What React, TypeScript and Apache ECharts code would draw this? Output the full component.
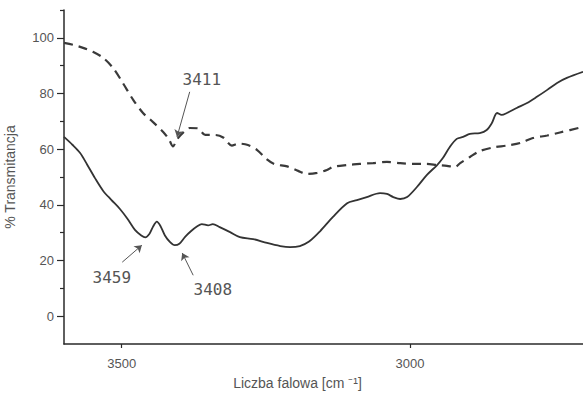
import React, { useEffect, useRef } from "react";
import * as echarts from "echarts";

// Wavenumber [cm^-1] and % transmittance for the solid spectrum
const solidWavenumbers = [
  3600, 3585, 3572, 3560, 3546, 3532, 3518, 3503, 3490, 3477, 3466, 3459, 3452, 3446, 3439,
  3433, 3425, 3416, 3408, 3400, 3390, 3380, 3369, 3361, 3350, 3342, 3330, 3312, 3295, 3272,
  3248, 3225, 3208, 3191, 3175, 3156, 3134, 3109, 3092, 3075, 3052, 3040, 3029, 3017, 3005,
  2988, 2971, 2953, 2943, 2931, 2919, 2908, 2896, 2879, 2867, 2858, 2849, 2841, 2832, 2815,
  2797, 2780, 2762, 2745, 2728, 2700,
];
const solidTransmittance = [
  64.4, 61.5, 58.6, 54.5, 49.5, 45.0, 41.8, 38.5, 35.0, 31.0, 29.0, 28.3, 29.5, 32.0, 34.0,
  32.5, 29.0, 26.6, 25.5, 26.0, 28.5, 30.5, 32.3, 33.1, 32.6, 33.1, 32.0, 30.2, 28.4, 27.7,
  26.3, 25.2, 24.8, 25.2, 26.8, 30.5, 35.6, 40.6, 41.7, 42.8, 44.2, 43.9, 42.8, 42.1, 42.8,
  46.4, 50.7, 54.3, 56.8, 60.8, 63.7, 64.4, 65.5, 65.8, 66.9, 69.4, 73.0, 72.3, 73.0, 74.8,
  76.6, 78.8, 81.3, 83.8, 85.6, 87.8,
];

// Wavenumber [cm^-1] and % transmittance for the dashed spectrum
const dashedWavenumbers = [
  3600, 3584, 3567, 3550, 3532, 3515, 3498, 3480, 3463, 3446, 3428, 3418, 3411, 3404, 3392,
  3382, 3368, 3355, 3338, 3324, 3309, 3298, 3281, 3265, 3248, 3235, 3213, 3194, 3179, 3161,
  3144, 3134, 3109, 3087, 3064, 3040, 3017, 2995, 2971, 2953, 2936, 2922, 2913, 2896, 2879,
  2856, 2832, 2809, 2787, 2762, 2740, 2700,
];
const dashedTransmittance = [
  98.2, 97.5, 96.4, 95.0, 92.8, 89.2, 83.8, 77.7, 73.0, 69.8, 66.2, 63.5, 61.0, 63.5, 66.2,
  67.6, 67.5, 65.1, 65.1, 64.2, 61.3, 62.0, 61.5, 59.7, 56.3, 54.6, 53.8, 52.2, 51.1, 51.5,
  52.5, 53.6, 54.3, 54.7, 55.0, 55.4, 55.0, 54.7, 54.7, 54.3, 54.0, 53.6, 55.0, 57.2, 59.3,
  60.6, 61.3, 62.2, 64.0, 64.9, 66.0, 68.0,
];

// Axis ticks
const xTickValues = [3500, 3000];
const yMajorTicks = [0, 20, 40, 60, 80, 100];
const yMinorTicks = [10, 30, 50, 70, 90, 110];

// Band annotations: label, arrow tail, arrow tip, label centre (data coordinates)
const bandLabels = ["3411", "3459", "3408"];
const arrowTails = [
  [3382, 80.6],
  [3499, 19.4],
  [3376, 14.7],
];
const arrowTips = [
  [3404, 64.4],
  [3465, 25.5],
  [3395, 22.7],
];
const labelCentres = [
  [3361, 84.9],
  [3517, 14.0],
  [3342, 9.7],
];

const zip = (xs: number[], ys: number[]) => xs.map((x, i) => [x, ys[i]]);

export default function App() {
  const ref = useRef<HTMLDivElement>(null);

  useEffect(() => {
    if (!ref.current) return;
    const chart = echarts.init(ref.current, undefined, { renderer: "svg" });
    const axisColor = "#2a2a2a";
    const textColor = "#555";
    const sans = "Liberation Sans, Arial, sans-serif";

    chart.setOption({
      animation: false,
      backgroundColor: "#ffffff",
      grid: { left: 64, top: 10, right: 0, bottom: 49, containLabel: false, outerBoundsMode: "none" },
      xAxis: {
        type: "value",
        inverse: true,
        min: 2700,
        max: 3600,
        name: "Liczba falowa [cm ⁻¹]",
        nameLocation: "middle",
        nameGap: 32,
        nameTextStyle: { color: textColor, fontSize: 14, fontFamily: sans, padding: [0, 52, 0, 0] },
        axisLine: { onZero: false, lineStyle: { color: axisColor, width: 1.5 } },
        axisTick: { show: true, length: 4, customValues: xTickValues, lineStyle: { color: axisColor, width: 1.2 } },
        axisLabel: {
          customValues: xTickValues,
          formatter: (v: number) => String(v),
          color: textColor,
          fontSize: 13,
          fontFamily: sans,
          margin: 13,
        },
        splitLine: { show: false },
      },
      yAxis: [
        {
          type: "value",
          min: -10,
          max: 110,
          name: "% Transmitancja",
          nameLocation: "middle",
          nameRotate: 90,
          nameGap: 47,
          nameTextStyle: { color: textColor, fontSize: 14, fontFamily: sans },
          axisLine: { show: true, onZero: false, lineStyle: { color: axisColor, width: 1.5 } },
          axisTick: { show: true, length: 7, customValues: yMajorTicks, lineStyle: { color: axisColor, width: 1.2 } },
          axisLabel: {
            customValues: yMajorTicks,
            formatter: (v: number) => String(v),
            color: textColor,
            fontSize: 13,
            fontFamily: sans,
            margin: 10,
          },
          splitLine: { show: false },
        },
        {
          type: "value",
          min: -10,
          max: 110,
          position: "left",
          axisLine: { show: false, onZero: false },
          axisTick: { show: true, length: 4, customValues: yMinorTicks, lineStyle: { color: axisColor, width: 1.2 } },
          axisLabel: { show: false },
          splitLine: { show: false },
        },
      ],
      series: [
        {
          type: "line",
          data: zip(dashedWavenumbers, dashedTransmittance),
          showSymbol: false,
          smooth: 0.3,
          lineStyle: { color: "#3a3a3a", width: 2.2, type: [9, 6] },
          silent: true,
        },
        {
          type: "line",
          data: zip(solidWavenumbers, solidTransmittance),
          showSymbol: false,
          smooth: 0.3,
          lineStyle: { color: "#333", width: 1.8 },
          silent: true,
          markLine: {
            silent: true,
            symbol: ["none", "arrow"],
            symbolSize: 7,
            label: { show: false },
            lineStyle: { color: "#555", width: 1, type: "solid" },
            data: arrowTails.map((t, i) => [{ coord: t }, { coord: arrowTips[i] }]),
          },
          markPoint: {
            silent: true,
            symbol: "circle",
            symbolSize: 0,
            label: {
              show: true,
              position: "inside",
              color: textColor,
              fontSize: 16,
              fontFamily: "DejaVu Sans Mono, monospace",
              formatter: (p: any) => p.name,
            },
            data: labelCentres.map((c, i) => ({ name: bandLabels[i], coord: c })),
          },
        },
      ],
    });

    return () => chart.dispose();
  }, []);

  return (
    <div
      ref={ref}
      style={{ position: "fixed", left: 0, top: 0, width: 583, height: 393, background: "#fff" }}
    />
  );
}
